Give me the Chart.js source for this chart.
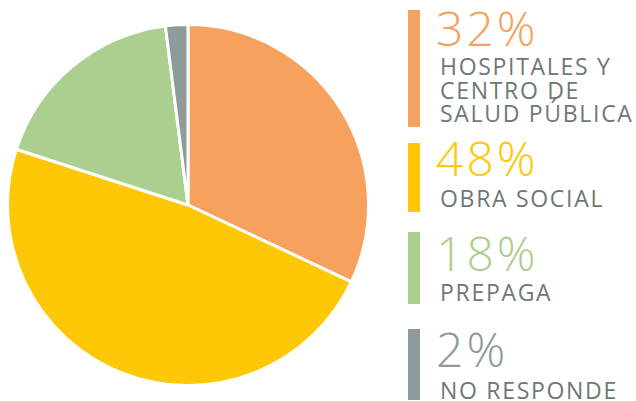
<!DOCTYPE html>
<html>
<head>
<meta charset="utf-8">
<script src="https://cdn.jsdelivr.net/npm/chart.js@4/dist/chart.umd.min.js"></script>
<style>
    html, body {
        margin: 0;
        padding: 0;
        background: #fff;
        width: 636px;
        height: 401px;
        overflow: hidden;
        font-family: 'Open Sans', sans-serif;
    }
    #pie-box {
        position: absolute;
        left: 6px;
        top: 23px;
        width: 364px;
        height: 364px;
    }
    .item {
        position: absolute;
        left: 408px;
    }
    .bar {
        position: absolute;
        left: 0;
        top: 0;
        width: 12px;
    }
    .num {
        position: absolute;
        left: 28px;
        font-size: 48px;
        font-weight: 300;
        line-height: 48px;
        letter-spacing: 3px;
        white-space: nowrap;
    }
    .label {
        position: absolute;
        left: 32px;
        font-size: 23px;
        line-height: 23.5px;
        letter-spacing: 1.7px;
        color: #6d7874;
        white-space: nowrap;
    }
</style>
</head>
<body>
<div id="pie-box"><canvas id="pie-chart"></canvas></div>
<div id="legend"></div>

<script>
const categories = ['HOSPITALES Y<br>CENTRO DE<br>SALUD PÚBLICA', 'OBRA SOCIAL', 'PREPAGA', 'NO RESPONDE'];
const shares = [32, 48, 18, 2];
const colors = ['#f7a15e', '#fec806', '#abcf8e', '#8d9b9a'];

// legend layout (top of bar, bar height, top of number, top of label)
const itemTops = [10, 143, 232, 329];
const barHeights = [117, 69, 72, 71];
const numOffsets = [-6, -9, -3, -4];
const labelOffsets = [45, 44, 49, 50];

// Build legend blocks on the right
function renderLegend() {
    const legend = document.getElementById('legend');
    categories.forEach((cat, i) => {
        const item = document.createElement('div');
        item.className = 'item';
        item.style.top = itemTops[i] + 'px';
        item.innerHTML =
            `<div class="bar" style="height:${barHeights[i]}px;background:${colors[i]}"></div>` +
            `<div class="num" style="top:${numOffsets[i]}px;color:${colors[i]}">${shares[i]}%</div>` +
            `<div class="label" style="top:${labelOffsets[i]}px">${cat}</div>`;
        legend.appendChild(item);
    });
}

// Pie chart, starts at 12 o'clock going clockwise
function renderPie() {
    const ctx = document.getElementById('pie-chart').getContext('2d');
    new Chart(ctx, {
        type: 'pie',
        data: {
            labels: categories.map(c => c.replace(/<br>/g, ' ')),
            datasets: [{
                data: shares,
                backgroundColor: colors,
                borderWidth: 3,
                borderColor: '#fff'
            }]
        },
        options: {
            responsive: true,
            maintainAspectRatio: false,
            animation: false,
            layout: { padding: 0 },
            plugins: {
                legend: { display: false },
                tooltip: { enabled: false }
            }
        }
    });
}

renderLegend();
renderPie();
</script>
</body>
</html>
